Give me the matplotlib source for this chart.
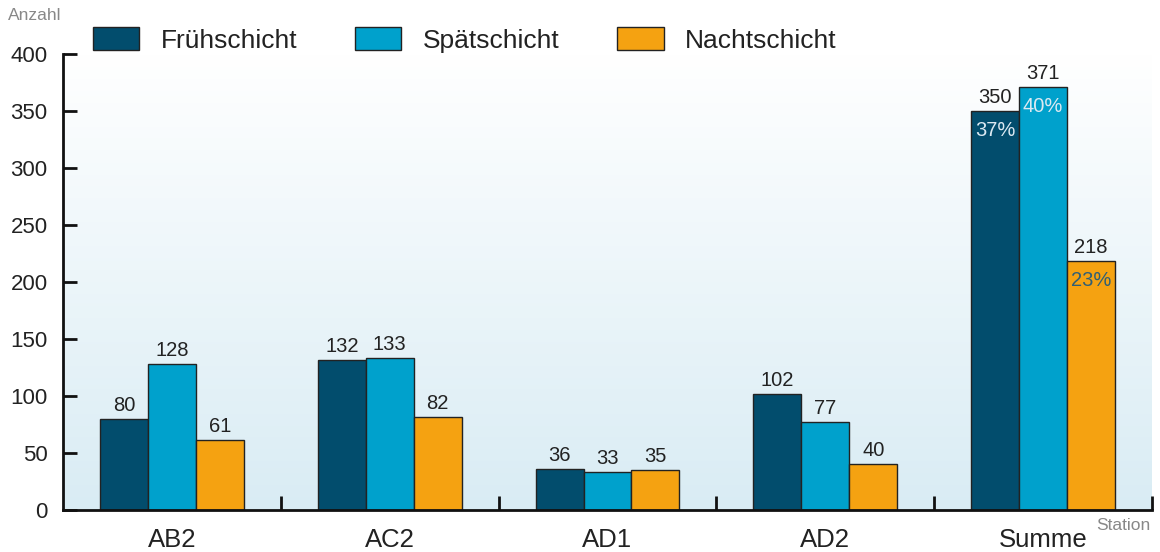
import numpy as np
import matplotlib
matplotlib.use("Agg")
import matplotlib.pyplot as plt
from matplotlib.colors import LinearSegmentedColormap

categories = ["AB2", "AC2", "AD1", "AD2", "Summe"]
frueh = [80, 132, 36, 102, 350]
spaet = [128, 133, 33, 77, 371]
nacht = [61, 82, 35, 40, 218]
series_names = ["Frühschicht", "Spätschicht", "Nachtschicht"]
summe_pct = ["37%", "40%", "23%"]
yticks = [0, 50, 100, 150, 200, 250, 300, 350, 400]

colors = ["#024d6d", "#00a1cc", "#f5a211"]
pct_colors = ["#dbe9f2", "#dbe9f2", "#2f5f75"]

plt.rcParams['font.family'] = ['Liberation Sans', 'DejaVu Sans']

fig = plt.figure(figsize=(11.6, 5.52), dpi=100)
ax = fig.add_axes([63/1160, 1-510/552, (1152-63)/1160, (510-54)/552])

# gradient background
grad = np.linspace(0, 1, 256).reshape(-1, 1)
cmap = LinearSegmentedColormap.from_list("bg", ["#ffffff", "#d9ecf4"])
ax.imshow(grad, extent=[-0.5, 4.5, 0, 400], origin="upper", aspect="auto",
          cmap=cmap, zorder=0)

x = np.arange(len(categories))
w = 0.22
offsets = [-w, 0, w]
all_series = [frueh, spaet, nacht]
for i, (vals, name) in enumerate(zip(all_series, series_names)):
    ax.bar(x + offsets[i], vals, width=w, color=colors[i],
           edgecolor="#222222", linewidth=1, label=name, zorder=2)
    for xi, v in zip(x + offsets[i], vals):
        ax.text(xi, v + 3.5, str(v), ha="center", va="bottom", fontsize=14.5,
                color="#222222", zorder=3)
    ax.text(x[-1] + offsets[i], vals[-1] - 8.5, summe_pct[i], ha="center",
            va="top", fontsize=14.5, color=pct_colors[i], zorder=3)

ax.set_xlim(-0.5, 4.5)
ax.set_ylim(0, 400)
ax.set_yticks(yticks)
ax.tick_params(axis="y", direction="in", length=10, width=2, labelsize=16,
               pad=11, colors="#111111", labelcolor="#222222")
ax.set_xticks(np.arange(0.5, 5, 1.0))
ax.set_xticklabels([])
ax.tick_params(axis="x", which="major", direction="in", length=10, width=2,
               color="#111111")
ax.set_xticks(x, minor=True)
ax.set_xticklabels(categories, minor=True, fontsize=18.5, color="#222222")
ax.tick_params(axis="x", which="minor", length=0, pad=13)

for s in ["top", "right"]:
    ax.spines[s].set_visible(False)
for s in ["left", "bottom"]:
    ax.spines[s].set_linewidth(2)
    ax.spines[s].set_color("#111111")

fig.text(8/1160, 1-16/552, "Anzahl", fontsize=12.5, color="#888888",
         ha="left", va="center")
fig.text(1150/1160, 1-525/552, "Station", fontsize=12.5, color="#888888",
         ha="right", va="center")

leg = fig.legend(loc="center left", bbox_to_anchor=(88/1160, 1-40/552), ncol=3,
                 frameon=False, fontsize=19, handlelength=1.75,
                 handleheight=0.95, handletextpad=0.8, columnspacing=2.2,
                 borderaxespad=0, borderpad=0.2)
for t in leg.get_texts():
    t.set_color("#222222")

fig.savefig("out.png", dpi=100)
